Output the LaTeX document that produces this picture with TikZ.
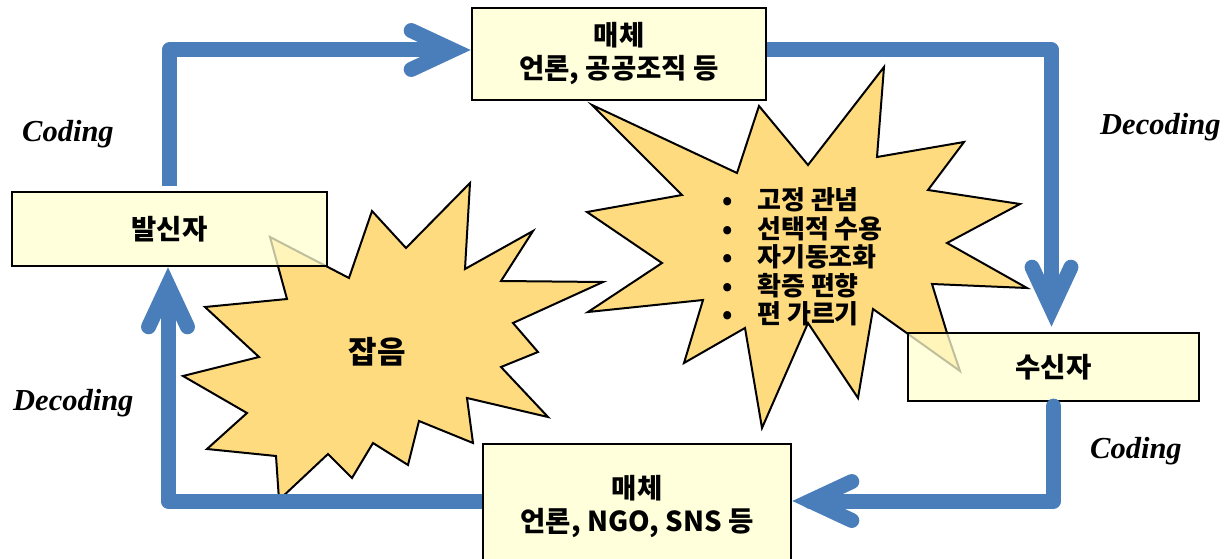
\documentclass[tikz,border=0pt]{standalone}
\usepackage{fontspec}
\setmainfont{Liberation Serif}
\newfontfamily\kr{Noto Sans CJK KR}
\usetikzlibrary{calc}
\definecolor{flowblue}{HTML}{4A7EBB}
\definecolor{boxyellow}{HTML}{FFFFD0}
\definecolor{burstyellow}{HTML}{FFDB80}
\newcommand\chev[2]{\draw[chevronline] (#1) ++({#2+155}:46) -- (#1) -- ++({#2+205}:46);}
\begin{document}
\begin{tikzpicture}[x=1pt,y=-1pt,
  box/.style={draw=black, line width=2.2pt, fill=boxyellow, fill opacity=0.75, text opacity=1, inner sep=0pt, align=center, font=\kr\bfseries\fontsize{27.5}{33}\selectfont},
  burst/.style={draw=black, line width=2pt, fill=burstyellow, line join=miter},
  flow/.style={draw=flowblue, line width=15pt, line join=round},
  chevronline/.style={draw=flowblue, line width=15pt, line cap=round, line join=miter},
  lab/.style={font=\bfseries\itshape\fontsize{30.5}{36}\selectfont, anchor=base west, inner sep=0pt},
  txt/.style={inner sep=0pt, font=\kr\bfseries\fontsize{26}{28.5}\selectfont}]
\clip (0,0) rectangle (1228,559);
% noise bursts
\draw[burst] (592,105) -- (737,173) -- (759,106) -- (808,165) -- (884,67) -- (877,157) -- (964,142) -- (928,190) -- (1020,204) -- (947,243) -- (1027,288) -- (932,284) -- (947,333) -- (960,371) -- (873,309) -- (858,398) -- (808,323) -- (762,428) -- (745,328) -- (684,363) -- (703,300) -- (588,312) -- (662,263) -- (587,212) -- (682,195) -- cycle;
\draw[burst] (270,237) -- (287,299) -- (205,307) -- (259,357) -- (183,376) -- (247,413) -- (207,449) -- (276,456) -- (279,500) -- (328,454) -- (352,478) -- (373,443) -- (408,465) -- (419,421) -- (473,443) -- (467,398) -- (548,417) -- (501,367) -- (538,352) -- (513,323) -- (603,282) -- (501,281) -- (533,231) -- (465,269) -- (470,183) -- (406,248) -- (372,211) -- (349,278) -- cycle;
% boxes
\node[box, minimum width=315pt, minimum height=74pt] (send) at (169.5,229) {발신자};
\node[box, minimum width=294pt, minimum height=92pt] (top) at (619,54) {매체\\언론, 공공조직 등};
\node[box, minimum width=291pt, minimum height=68pt] (recv) at (1053.5,367) {수신자};
\node[box, minimum width=308pt, minimum height=126pt] (bot) at (637,507) {매체\\언론, NGO, SNS 등};
% texts in bursts
\node[txt, font=\kr\bfseries\fontsize{31}{34}\selectfont] (noise) at (377,352) {잡음};
\node[txt, anchor=west, align=left] (list) at (722,257) {\makebox[35pt][l]{•}고정 관념\\\makebox[35pt][l]{•}선택적 수용\\\makebox[35pt][l]{•}자기동조화\\\makebox[35pt][l]{•}확증 편향\\\makebox[35pt][l]{•}편 가르기};
% arrow tips
\coordinate (t1) at ([xshift=-18pt,yshift=4pt]top.west);
\coordinate (t2) at ([xshift=-2pt,yshift=23pt]recv.north);
\coordinate (t3) at ([xshift=18pt,yshift=6pt]bot.east);
\coordinate (t4) at ([xshift=-1.5pt,yshift=-18pt]send.south);
% connectors
\draw[flow] ([yshift=5pt]send.north) |- (t1);
\chev{t1}{0}
\draw[flow] ([yshift=4pt]top.east) -| (t2);
\chev{t2}{90}
\draw[flow, line cap=round] ([yshift=-4pt]recv.south) |- (t3);
\chev{t3}{180}
\draw[flow] ([yshift=6pt]bot.west) -| (t4);
\chev{t4}{270}
% labels
\node[lab] (c1) at (22,142) {Coding};
\node[lab] (d1) at (1100,135) {Decoding};
\node[lab] (c2) at (1090,458) {Coding};
\node[lab] (d2) at (13,410) {Decoding};
\end{tikzpicture}
\end{document}
